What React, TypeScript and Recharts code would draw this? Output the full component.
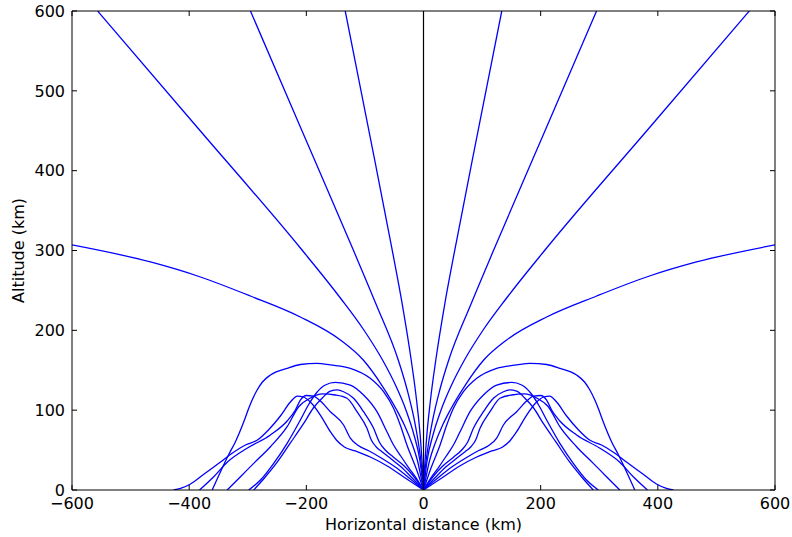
import React from "react";
import { LineChart, Line, XAxis, YAxis, ReferenceLine, Label } from "recharts";

// ray paths on the left half, [horizontal km, altitude km], from the origin outward.
// the figure is symmetric, the right half uses the same paths mirrored.
const rayB: [number, number][] = [[0, 0], [-1.7, 25.1], [-4.4, 56.4], [-11.9, 112.7], [-21, 162.8], [-36, 231.7], [-53.4, 300.6], [-93.4, 450.9], [-133.6, 600]];
const rayA: [number, number][] = [[0, 0], [-2.7, 25.1], [-8.2, 56.4], [-15.7, 87.7], [-27.8, 125.3], [-43.1, 162.8], [-80.4, 231.7], [-119.8, 300.6], [-208, 450.9], [-295.4, 600]];
const rayC: [number, number][] = [[0, 0], [-6.3, 37.6], [-16.2, 68.9], [-30, 100.2], [-47.9, 131.5], [-69.9, 162.8], [-101.8, 200.4], [-141.9, 240.5], [-210.2, 303.1], [-382.3, 450.9], [-556.2, 600]];
const rayD: [number, number][] = [[0, 0], [-10.6, 37.6], [-18.8, 56.4], [-32.7, 81.4], [-45.7, 100.2], [-71.4, 131.5], [-102.8, 162.8], [-141.9, 187.9], [-210.2, 216.7], [-295.6, 243], [-380.8, 266.8], [-466, 285.6], [-600, 307]];

const ray1: [number, number][] = [[0, 0], [-11.6, 25.1], [-28.3, 56.4], [-39.7, 81.4], [-51.1, 102.3], [-68.2, 123.1], [-90.9, 139.9], [-124.9, 152.4], [-159, 156.6], [-181.7, 158.7], [-210.2, 157.2], [-232.8, 152.4], [-261.3, 144], [-274.9, 135.3], [-284, 125.3], [-292.5, 112.7], [-298.3, 102.3], [-305.6, 87.7], [-321, 60.5], [-332.9, 43.8], [-346.5, 22.9], [-360.7, 0]];
const ray2: [number, number][] = [[0, 0], [-12.4, 15], [-26.1, 28.8], [-38.9, 42.6], [-51.1, 56.4], [-62.4, 73], [-79.4, 98.1], [-102.3, 119], [-124.9, 131.5], [-150.5, 134.7], [-167.6, 131.5], [-182.9, 121.5], [-196.5, 106.5], [-210.2, 87.7], [-232.8, 58.5], [-255.7, 33.4], [-278.3, 12.5], [-298.3, 0]];
const ray3: [number, number][] = [[0, 0], [-15.9, 16.3], [-32.9, 30.1], [-51.6, 41.3], [-65.3, 50.1], [-75.5, 60.1], [-85.2, 77.3], [-102.3, 98.1], [-119.3, 114.9], [-136.4, 123.1], [-147.1, 125.3], [-159, 124], [-172.7, 115.2], [-188, 102.7], [-205.1, 82.7], [-227.2, 58.9], [-249.4, 35.1], [-271.5, 15], [-289.8, 0]];
const ray4: [number, number][] = [[0, 0], [-19.3, 15], [-38, 28.8], [-55.1, 38.8], [-70.4, 47.6], [-80.6, 53.9], [-89.1, 62.6], [-96.5, 77.3], [-113.5, 98.1], [-130.6, 114.9], [-150.5, 119], [-172.7, 120.3], [-193.1, 115.2], [-213.1, 104.3], [-232.8, 79.3], [-261.3, 54.2], [-289.8, 33.4], [-312.4, 16.7], [-335.1, 0]];
const ray5: [number, number][] = [[0, 0], [-24.4, 15], [-48.2, 28.8], [-72.1, 40.1], [-94.3, 49.5], [-111.3, 55.7], [-124.9, 65.1], [-136.4, 81.4], [-159, 98.1], [-176.1, 111.5], [-188, 117.7], [-199.9, 118.4], [-210.2, 112.7], [-218.7, 100.2], [-232.8, 86.4], [-261.3, 68.9], [-300.5, 52.6], [-334.6, 35.1], [-358.5, 16.3], [-382.3, 0]];
const ray6: [number, number][] = [[0, 0], [-31.2, 15], [-61.9, 30.1], [-90.9, 41.3], [-116.4, 48.9], [-135.1, 53.9], [-148.7, 62.6], [-159, 73], [-176.1, 93.9], [-193.1, 110.2], [-205.1, 116.5], [-215.3, 117.7], [-227.2, 110.2], [-244.3, 92.7], [-264.7, 75.2], [-283.5, 62.6], [-303.9, 56.4], [-326.1, 46.3], [-346.5, 35.1], [-372.1, 21.3], [-397.7, 7.5], [-414.7, 1.9], [-426.6, 0]];

const xTicks = [-600, -400, -200, 0, 200, 400, 600];
const yTicks = [0, 100, 200, 300, 400, 500, 600];

const leftRays = [rayB, rayA, rayC, rayD, ray1, ray2, ray3, ray4, ray5, ray6];
const toPoints = (ray: [number, number][], side: number) => ray.map(([x, alt]) => ({ x: side * x, alt }));
const series = [...leftRays.map((r) => toPoints(r, 1)), ...leftRays.map((r) => toPoints(r, -1))];

// plot box in page pixels
const W = 792;
const H = 537;
const LEFT = 72;
const RIGHT = 775;
const TOP = 11;
const BOTTOM = 490;
const TICK = 5;
const FONT = "DejaVu Sans";

const fmt = (v: number) => (v < 0 ? "\u2212" + Math.abs(v) : String(v));

function XTick({ x, y, payload }: any) {
  return (
    <g>
      <line x1={x} x2={x} y1={BOTTOM} y2={BOTTOM - TICK} stroke="#000" />
      <line x1={x} x2={x} y1={TOP} y2={TOP + TICK} stroke="#000" />
      <text x={x} y={y} dy="0.71em" textAnchor="middle" fontSize={16} fontFamily={FONT} fill="#000">
        {fmt(payload.value)}
      </text>
    </g>
  );
}

function YTick({ x, y, payload }: any) {
  return (
    <g>
      <line x1={LEFT} x2={LEFT + TICK} y1={y} y2={y} stroke="#000" />
      <line x1={RIGHT} x2={RIGHT - TICK} y1={y} y2={y} stroke="#000" />
      <text x={x} y={y} dy="0.36em" textAnchor="end" fontSize={16} fontFamily={FONT} fill="#000">
        {fmt(payload.value)}
      </text>
    </g>
  );
}

function XLabel() {
  return (
    <text x={(LEFT + RIGHT) / 2} y={BOTTOM + 40} textAnchor="middle" fontSize={16} fontFamily={FONT} fill="#000">
      Horizontal distance (km)
    </text>
  );
}

function YLabel() {
  const cy = (TOP + BOTTOM) / 2;
  return (
    <text x={24} y={cy} transform={`rotate(-90, 24, ${cy})`} textAnchor="middle" fontSize={16} fontFamily={FONT} fill="#000">
      Altitude (km)
    </text>
  );
}

export default function App() {
  return (
    <div style={{ position: "absolute", left: 0, top: 0, background: "#fff", fontFamily: FONT }}>
      <LineChart width={W} height={H} margin={{ top: TOP, right: W - RIGHT, bottom: 0, left: 0 }}>
        <XAxis
          type="number"
          dataKey="x"
          domain={[-600, 600]}
          ticks={xTicks}
          allowDataOverflow
          height={H - BOTTOM}
          axisLine={{ stroke: "#000" }}
          tickLine={false}
          tickSize={0}
          tickMargin={8}
          tick={XTick}
        >
          <Label content={XLabel} />
        </XAxis>
        <YAxis
          type="number"
          domain={[0, 600]}
          ticks={yTicks}
          allowDataOverflow
          width={LEFT}
          axisLine={{ stroke: "#000" }}
          tickLine={false}
          tickSize={0}
          tickMargin={7}
          tick={YTick}
        >
          <Label content={YLabel} />
        </YAxis>
        {series.map((pts, i) => (
          <Line
            key={i}
            data={pts}
            dataKey="alt"
            type="monotone"
            stroke="#0000ff"
            strokeWidth={1.3}
            dot={false}
            activeDot={false}
            isAnimationActive={false}
          />
        ))}
        <ReferenceLine x={0} stroke="#000" strokeWidth={1.2} />
        <ReferenceLine y={600} stroke="#000" />
        <ReferenceLine x={600} stroke="#000" />
      </LineChart>
    </div>
  );
}
